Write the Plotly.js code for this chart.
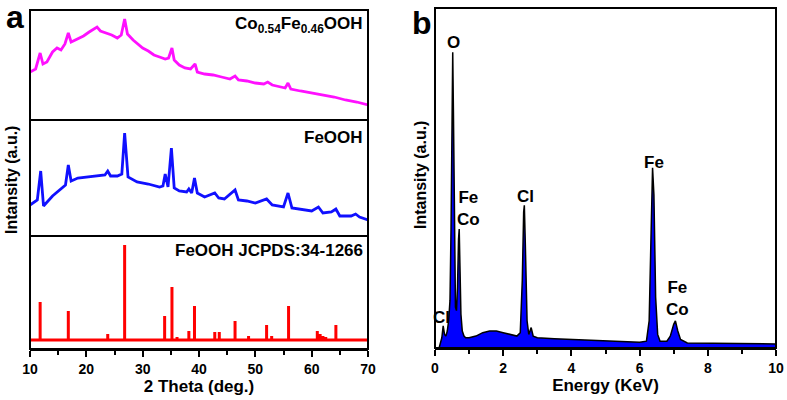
<!DOCTYPE html>
<html>
<head>
<meta charset="utf-8">
<script src="https://cdn.plot.ly/plotly-3.0.1.min.js"></script>
<style>
  body { margin: 0; background: #fff; }
  #chart { width: 787px; height: 400px; }
</style>
</head>
<body>
<div id="chart"></div>
<script>
// ---- panel a: XRD ----
// Co0.54Fe0.46OOH pattern (top)
var coTheta = [10, 11, 11.8, 12.3, 13, 14, 14.8, 15.5, 16.2, 16.8, 17.3, 18.5, 19.5, 20.5, 21.9, 22.5, 23.5, 24.5, 25.5, 26.2, 26.8, 27.3, 28.3, 29, 30, 31, 32, 33, 34, 34.6, 35.2, 35.6, 36.5, 37.5, 38.5, 39.3, 39.7, 41, 42.5, 44, 45.5, 46.4, 47, 48.5, 50, 51.5, 52.2, 53, 54.5, 55.3, 55.8, 56.3, 58, 60, 62, 64, 66, 68, 70];
var coInt = [48, 51, 67, 56, 58, 68, 72, 70, 76, 87, 78, 81, 84, 88, 93, 89, 87, 85, 82, 85, 101, 86, 80, 77, 72, 69, 65, 63, 61, 62, 72, 60, 55, 52, 51, 56, 48, 46, 45, 43, 41, 44, 40, 39, 37, 36, 38, 35, 33, 32, 37, 31, 29, 27, 25, 23, 20, 18, 15];

// FeOOH pattern (middle)
var feTheta = [10, 11.3, 11.9, 12.4, 14, 16.3, 16.8, 17.3, 18.5, 20, 22, 23.3, 23.8, 24.3, 25.5, 26.3, 26.8, 27.4, 29, 31, 33, 33.6, 34, 34.5, 35.1, 35.6, 36.5, 37.8, 38.2, 38.7, 39.2, 39.7, 41, 42.8, 43.5, 44.5, 46.4, 47, 48.5, 50, 52, 53, 55, 55.8, 56.5, 58, 60, 61.2, 62, 63.5, 64.3, 65, 67, 67.8, 68.5, 70];
var feInt = [31, 36, 65, 30, 40, 51, 71, 55, 58, 59, 60, 61, 65, 60, 60, 62, 103, 59, 54, 52, 49, 50, 62, 49, 88, 48, 45, 44, 47, 43, 58, 43, 39, 43, 38, 37, 46, 36, 35, 33, 37, 31, 29, 43, 28, 27, 25, 29, 23, 24, 27, 20, 20, 22, 19, 16];

// JCPDS 34-1266 reference sticks (bottom)
var refTheta = [11.8, 16.8, 23.8, 26.8, 33.9, 35.2, 36.1, 38.2, 39.2, 42.8, 43.6, 46.4, 48.8, 52.0, 52.9, 55.9, 61.0, 61.5, 62.0, 62.5, 64.3];
var refInt = [47, 38, 15, 104, 33, 62, 12, 18, 43, 17, 17, 28, 13, 24, 13, 43, 18, 15, 13, 12, 24];
var refBase = 9;
var thetaRange = [10, 70];

// ---- panel b: EDS ----
var energy = [0.12, 0.15, 0.2, 0.24, 0.28, 0.32, 0.36, 0.40, 0.44, 0.47, 0.50, 0.52, 0.54, 0.57, 0.60, 0.63, 0.66, 0.69, 0.71, 0.73, 0.76, 0.80, 0.85, 0.9, 1.0, 1.2, 1.4, 1.6, 1.8, 2.0, 2.2, 2.4, 2.5, 2.56, 2.60, 2.62, 2.65, 2.70, 2.75, 2.82, 2.88, 3.0, 3.5, 4.0, 4.5, 5.0, 5.5, 6.0, 6.2, 6.28, 6.34, 6.38, 6.42, 6.47, 6.53, 6.6, 6.8, 6.9, 7.0, 7.05, 7.12, 7.2, 7.4, 8.0, 9.0, 10.0];
var counts = [0, 1, 3, 6.5, 4, 3.5, 5, 8, 14, 35, 75, 87, 70, 30, 12, 11, 18, 32, 35, 25, 10, 5, 3.5, 3, 3, 3.5, 4.5, 5, 5, 4.5, 4, 3.5, 4.5, 20, 40, 42, 30, 8, 4, 6, 3.5, 3, 2.7, 2.5, 2.2, 2, 1.8, 1.7, 2, 8, 35, 53, 45, 15, 4, 2, 2, 3.5, 7, 8, 5, 2.5, 1.5, 1.4, 1.3, 1.2];
var edsLabelText = ["O", "Fe<br>Co", "Cl", "Fe", "Fe<br>Co", "Cl"];
var edsLabelX = [0.55, 0.97, 2.64, 6.42, 7.12, 0.2];
var edsLabelY = [90, 41, 44.5, 54.7, 14.7, 9];

var FONT = "Liberation Sans, Arial, sans-serif";

// stick pattern as one line: baseline -> up -> down -> ...
var stickX = [thetaRange[0]], stickY = [refBase];
refTheta.forEach(function (t, i) {
  stickX.push(t, t, t);
  stickY.push(refBase, refInt[i], refBase);
});
stickX.push(thetaRange[1]);
stickY.push(refBase);

var data = [
  { x: stickX, y: stickY, xaxis: "x", yaxis: "y", mode: "lines",
    line: { color: "#ff0000", width: 3 }, hoverinfo: "skip" },
  { x: feTheta, y: feInt, xaxis: "x", yaxis: "y2", mode: "lines",
    line: { color: "#1010ff", width: 2.8 } },
  { x: coTheta, y: coInt, xaxis: "x", yaxis: "y3", mode: "lines",
    line: { color: "#ff10ff", width: 2.8 } },
  { x: energy, y: counts, xaxis: "x2", yaxis: "y4", mode: "lines",
    fill: "tozeroy", fillcolor: "#0000ff",
    line: { color: "#000000", width: 1.5 } }
];

var noY = { showticklabels: false, ticks: "", showgrid: false, zeroline: false, showline: false, fixedrange: true };
var tickFont = { family: FONT, size: 14, color: "#000", weight: "bold" };
var titleFont = { family: FONT, size: 17, color: "#000", weight: "bold" };
var ytitleFont = { family: FONT, size: 16, color: "#000", weight: "bold" };
var labelFont = { family: FONT, size: 17, color: "#000", weight: "bold" };

function frame(xr, yr) {
  return { type: "rect", xref: xr + " domain", yref: yr + " domain", x0: 0, x1: 1, y0: 0, y1: 1,
    line: { color: "#000", width: 2 } };
}

var annotations = [
  { text: "a", xref: "paper", yref: "paper", x: 15 / 787, y: 1 - 17 / 400, xanchor: "center", yanchor: "middle",
    showarrow: false, font: { family: FONT, size: 32, color: "#000", weight: "bold" } },
  { text: "b", xref: "paper", yref: "paper", x: 422 / 787, y: 1 - 23 / 400, xanchor: "center", yanchor: "middle",
    showarrow: false, font: { family: FONT, size: 32, color: "#000", weight: "bold" } },
  { text: "Intansity (a.u.)", xref: "paper", yref: "paper", x: 12 / 787, y: 1 - 180 / 400,
    xanchor: "center", yanchor: "middle", textangle: -90, showarrow: false, font: ytitleFont },
  { text: "Intansity (a.u.)", xref: "paper", yref: "paper", x: 420 / 787, y: 1 - 175 / 400,
    xanchor: "center", yanchor: "middle", textangle: -90, showarrow: false, font: ytitleFont },
  { text: "Co<sub>0.54</sub>Fe<sub>0.46</sub>OOH", xref: "x domain", yref: "y3 domain",
    x: 0.99, y: 0.98, xanchor: "right", yanchor: "top", showarrow: false, font: labelFont },
  { text: "FeOOH", xref: "x domain", yref: "y2 domain",
    x: 0.99, y: 0.95, xanchor: "right", yanchor: "top", showarrow: false, font: labelFont },
  { text: "FeOOH JCPDS:34-1266", xref: "x domain", yref: "y domain",
    x: 0.99, y: 0.97, xanchor: "right", yanchor: "top", showarrow: false, font: labelFont }
];
edsLabelText.forEach(function (t, i) {
  annotations.push({ text: t, xref: "x2", yref: "y4", x: edsLabelX[i], y: edsLabelY[i],
    yanchor: "middle", showarrow: false, font: labelFont });
});

var layout = {
  width: 787, height: 400,
  margin: { l: 0, r: 0, t: 0, b: 0 },
  paper_bgcolor: "#fff", plot_bgcolor: "#fff",
  showlegend: false,
  xaxis: {
    domain: [30 / 787, 368 / 787], range: thetaRange, anchor: "y",
    tick0: 10, dtick: 10, ticks: "outside", ticklen: 6, tickwidth: 2, tickcolor: "#000",
    minor: { dtick: 5, ticks: "outside", ticklen: 4, tickwidth: 2, tickcolor: "#000" },
    showline: true, linewidth: 2, linecolor: "#000", showgrid: false, zeroline: false,
    tickfont: tickFont,
    title: { text: "2 Theta (deg.)", font: titleFont, standoff: 4 }
  },
  yaxis: Object.assign({ domain: [1 - 349 / 400, 1 - 236 / 400], range: [0, 113], anchor: "x" }, noY),
  yaxis2: Object.assign({ domain: [1 - 236 / 400, 1 - 120 / 400], range: [0, 116], anchor: "x" }, noY),
  yaxis3: Object.assign({ domain: [1 - 120 / 400, 1 - 10 / 400], range: [0, 110], anchor: "x" }, noY),
  xaxis2: {
    domain: [435 / 787, 776 / 787], range: [0, 10], anchor: "y4",
    tick0: 0, dtick: 2, ticks: "outside", ticklen: 6, tickwidth: 2, tickcolor: "#000",
    minor: { dtick: 1, ticks: "outside", ticklen: 4, tickwidth: 2, tickcolor: "#000" },
    showline: true, linewidth: 2, linecolor: "#000", showgrid: false, zeroline: false,
    tickfont: tickFont,
    title: { text: "Energy (KeV)", font: titleFont, standoff: 4 }
  },
  yaxis4: Object.assign({ domain: [1 - 348 / 400, 1 - 8 / 400], range: [0, 100], anchor: "x2" }, noY),
  shapes: [frame("x", "y"), frame("x", "y2"), frame("x", "y3"), frame("x2", "y4")],
  annotations: annotations
};

Plotly.newPlot("chart", data, layout, { staticPlot: true });
</script>
</body>
</html>
